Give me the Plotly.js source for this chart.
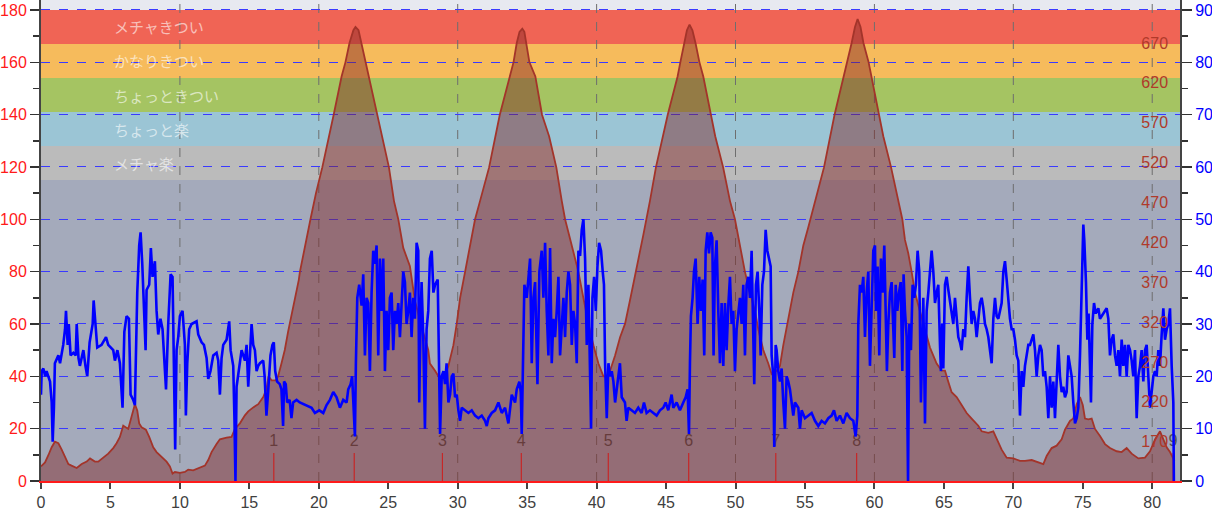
<!DOCTYPE html>
<html><head><meta charset="utf-8">
<script src="https://cdn.plot.ly/plotly-3.0.1.min.js"></script>
<style>html,body{margin:0;padding:0;background:#fff}#chart{width:1212px;height:510px}</style>
</head><body><div id="chart"></div>
<script>
// speed samples: [distance km, speed km/h]
const speedSamples = [
[0,16.5],[0.05,21],[0.17,21.5],[0.3,20],[0.4,21],[0.65,19],[0.77,15],[0.84,7.5],[0.93,14],[1.0,22.5],
[1.25,24],[1.37,22.5],[1.6,26],[1.73,29],[1.8,32.5],[1.92,26],[2.0,30],[2.13,24],[2.33,24.5],[2.5,24],
[2.57,30],[2.7,23.5],[2.8,22],[3.05,25],[3.2,22],[3.33,20],[3.5,26.5],[3.72,30],[3.79,34.5],[3.9,30],
[4.05,25.5],[4.36,26],[4.68,27.5],[4.84,26],[5.2,25],[5.32,23],[5.5,25],[5.68,22.5],[5.87,14],[6.0,28.5],
[6.16,31.5],[6.33,31],[6.45,16.5],[6.64,15.5],[6.76,14.5],[6.83,23.5],[6.93,36],[7.07,45],[7.17,47.5],[7.29,41.5],
[7.41,31],[7.53,25],[7.6,36.5],[7.79,37.5],[7.91,44.5],[8.03,39],[8.2,42],[8.32,32.5],[8.44,28],[8.6,31],
[8.75,29],[8.85,23.5],[9.0,17.5],[9.16,30],[9.33,39.5],[9.47,39],[9.57,20],[9.66,6],[9.76,25],[9.88,27.5],
[10.0,31.5],[10.19,32.5],[10.36,26],[10.43,12.5],[10.53,22.5],[10.67,29],[10.84,30],[11.2,30.5],[11.32,28],[11.56,26.5],
[11.73,26],[11.92,23.5],[12.04,19.5],[12.2,21],[12.4,24],[12.64,24.5],[12.76,23],[12.88,16.5],[13.0,23.5],[13.12,26],
[13.36,27],[13.55,30.5],[13.65,25],[13.84,22],[13.93,11.5],[14.0,0],[14.08,18],[14.2,20.5],[14.32,22],[14.44,25],
[14.68,23],[14.8,26],[14.92,18],[15.04,25],[15.16,30],[15.28,26],[15.4,25],[15.52,21],[15.64,22],[15.76,22.5],
[16.0,23],[16.1,20],[16.23,12.5],[16.35,17],[16.52,24],[16.66,26],[16.76,26.5],[16.86,21],[17.0,19],[17.19,18.5],
[17.31,17.5],[17.43,10.5],[17.5,19],[17.62,18.5],[17.72,15],[17.9,15.5],[18.03,12],[18.15,15],[18.4,15.5],[18.63,15],
[19.12,14.5],[19.48,14],[19.72,13],[20.03,13.5],[20.32,13],[20.56,14.5],[20.8,15.5],[21.04,17],[21.28,16],[21.52,14],
[21.76,15.5],[22.0,15],[22.12,17.5],[22.29,18.5],[22.4,20],[22.53,10],[22.6,8.5],[22.67,22.5],[22.77,35],[22.91,37.5],
[23.08,33.5],[23.2,39.5],[23.32,24],[23.44,35],[23.56,34],[23.68,21],[23.8,36],[23.92,44],[24.04,41.5],[24.16,45],
[24.28,24],[24.4,42.5],[24.52,32.5],[24.64,42.5],[24.76,21],[24.88,32.5],[25.0,25],[25.12,35],[25.24,36],[25.36,25],
[25.48,32.5],[25.6,30],[25.72,34],[25.84,27.5],[25.96,35],[26.08,40],[26.2,38],[26.32,30],[26.44,32.5],[26.56,36],
[26.68,27.5],[26.8,35],[26.92,31],[27.04,45.5],[27.16,44],[27.23,15],[27.33,31],[27.4,38],[27.52,27.5],[27.64,10],
[27.76,29],[27.88,32.5],[28.0,42.5],[28.13,44],[28.25,36],[28.37,37.5],[28.56,38.5],[28.66,15],[28.73,9],[28.85,20],
[28.97,21],[29.09,18.5],[29.2,22.5],[29.33,15],[29.45,16.5],[29.57,20],[29.69,20.5],[29.81,16],[29.93,16.5],[30.05,13.5],
[30.17,11.5],[30.29,14],[30.53,13.5],[30.77,13],[31.01,13.5],[31.25,12.5],[31.49,12],[31.73,12.5],[31.97,11.5],[32.09,10.5],
[32.21,12],[32.45,13],[32.69,13.5],[32.93,15],[33.17,13],[33.41,14],[33.65,11],[33.77,14],[33.89,16.5],[34.13,15],
[34.25,17.5],[34.44,19],[34.54,17],[34.61,9],[34.73,25],[34.8,37.5],[34.97,35],[35.21,42.5],[35.33,22.5],[35.45,35],
[35.57,38],[35.74,18.5],[35.88,40],[36.05,44],[36.17,35],[36.29,45.5],[36.41,32.5],[36.53,24],[36.65,44.5],[36.77,22.5],
[36.89,31],[37.01,27.5],[37.13,32.5],[37.25,39],[37.37,24],[37.49,30],[37.61,35],[37.73,27.5],[37.85,36],[37.97,40],
[38.09,37.5],[38.21,26],[38.33,32.5],[38.45,30],[38.57,22.5],[38.69,44],[38.81,43],[38.93,48],[39.05,50],[39.17,42.5],
[39.29,26],[39.41,37.5],[39.53,20],[39.6,10],[39.7,35],[39.82,39],[39.94,32.5],[40.06,41],[40.18,45.5],[40.32,44],
[40.44,40],[40.53,37.5],[40.61,22.5],[40.73,12],[40.85,22.5],[40.97,20],[41.09,21],[41.21,19],[41.33,15],[41.45,17.5],
[41.57,20],[41.68,22.5],[41.81,16],[42.04,15],[42.16,11.5],[42.28,14],[42.52,13.5],[42.76,13],[43.0,14],[43.24,13],
[43.41,15],[43.6,13],[43.84,13.5],[44.08,13],[44.32,12.5],[44.56,13.5],[44.8,14],[44.97,15],[45.16,13.5],[45.4,16.5],
[45.52,14],[45.76,15],[46.0,13.5],[46.24,15],[46.41,16],[46.55,17.5],[46.65,9],[46.72,22.5],[46.79,31.5],[46.91,35],
[47.01,40],[47.13,42.5],[47.27,30],[47.39,39],[47.51,32.5],[47.63,38.5],[47.75,24],[47.85,44],[47.97,47.5],[48.09,43.5],
[48.21,47.5],[48.33,46.5],[48.42,24],[48.52,41],[48.64,46],[48.76,32.5],[48.88,22.5],[49.0,34],[49.12,22],[49.24,34],
[49.36,25],[49.48,33.5],[49.6,39],[49.72,30],[49.84,32.5],[49.96,21],[50.08,29],[50.2,32],[50.32,35],[50.44,30],
[50.56,37.5],[50.68,24],[50.8,37.5],[50.92,39],[51.04,35],[51.16,44],[51.28,25],[51.35,18.5],[51.47,37.5],[51.59,40],
[51.71,32.5],[51.81,24],[51.93,37.5],[52.05,40],[52.17,48],[52.29,44],[52.41,42.5],[52.53,41],[52.6,24],[52.72,20],
[52.79,6.5],[52.89,26],[52.96,25],[53.08,21],[53.2,19],[53.32,21.5],[53.44,15],[53.56,10],[53.68,20],[53.8,19],
[53.92,17.5],[54.04,15],[54.16,12.5],[54.28,15],[54.52,14],[54.64,10],[54.76,13.5],[55.0,12],[55.24,12.5],[55.48,13],
[55.72,11.5],[55.96,10.5],[56.2,11.5],[56.44,11],[56.68,12],[56.92,12.5],[57.09,13.5],[57.28,11.5],[57.52,12.5],[57.76,11],
[58.0,13],[58.24,12],[58.48,11.5],[58.65,8.5],[58.77,12.5],[58.84,30],[58.96,37.5],[59.08,36],[59.2,39],[59.32,27.5],
[59.44,36],[59.56,40],[59.68,22],[59.8,35],[59.92,44],[60.04,45],[60.11,32.5],[60.23,41],[60.35,24],[60.47,42.5],
[60.59,36],[60.71,45],[60.81,30],[60.9,21],[61.0,30],[61.12,36],[61.24,38],[61.36,27.5],[61.43,23.5],[61.53,37.5],
[61.65,32.5],[61.77,36],[61.89,38],[62.01,21],[62.1,39.5],[62.2,32.5],[62.32,27.5],[62.42,0],[62.51,30],[62.63,25],
[62.75,37.5],[62.87,35],[62.99,37.5],[63.11,44],[63.23,40],[63.35,15],[63.45,30],[63.52,35],[63.64,11],[63.76,32.5],
[63.88,36],[64.0,40],[64.12,44],[64.24,40],[64.36,34],[64.48,36],[64.6,37.5],[64.72,26],[64.79,21],[64.88,30],
[64.96,21.5],[65.08,37.5],[65.2,39],[65.32,36.5],[65.44,34],[65.56,32.5],[65.68,30],[65.8,35],[65.92,31.5],[66.04,27.5],
[66.16,26.5],[66.28,25],[66.4,29],[66.52,27.5],[66.64,35],[66.76,41],[66.88,35],[67.0,30],[67.12,32.5],[67.24,31],
[67.36,27.5],[67.48,31],[67.6,34],[67.72,35],[67.84,33],[67.96,30],[68.08,29],[68.2,27.5],[68.32,25],[68.44,22.5],
[68.56,31],[68.68,35],[68.8,31.5],[68.92,31],[69.04,32.5],[69.16,34],[69.28,40],[69.4,42],[69.52,38.5],[69.64,34],
[69.76,31],[69.88,29],[70.0,29],[70.12,27],[70.24,24],[70.36,23],[70.48,12.5],[70.6,21],[70.72,18],[70.84,22],
[70.96,24],[71.08,26],[71.2,26],[71.32,27],[71.44,28],[71.56,25],[71.68,20],[71.8,24],[71.92,26],[72.04,25],
[72.16,20],[72.28,21],[72.4,18],[72.52,12],[72.64,20],[72.76,14],[72.88,19],[73.0,12],[73.12,20],[73.24,26],
[73.36,20],[73.48,17],[73.6,18],[73.72,16],[73.84,17],[73.96,24],[74.08,22],[74.2,20],[74.32,15],[74.44,11],
[74.56,12],[74.68,14],[74.8,24],[74.92,40],[75.04,49],[75.11,46],[75.23,38],[75.33,27],[75.42,32],[75.52,22],
[75.59,15],[75.69,30],[75.81,34],[75.93,32],[76.12,33],[76.24,31],[76.48,32],[76.72,33],[76.84,31],[76.96,24],
[77.08,27],[77.2,28],[77.32,24],[77.44,22],[77.56,25],[77.68,20],[77.8,27],[77.92,22],[78.04,26],[78.16,20],
[78.28,26],[78.4,25],[78.52,23],[78.64,20],[78.76,25],[78.88,12],[79.0,20],[79.12,22],[79.24,25],[79.36,19],
[79.48,25],[79.6,26],[79.72,20],[79.84,14],[79.96,17],[80.08,20],[80.2,21],[80.32,20],[80.44,25],[80.56,22],
[80.68,28],[80.8,33],[80.92,27],[81.04,29],[81.16,30],[81.28,33],[81.4,22],[81.52,15],[81.56,0]
];

// elevation samples: [distance km, elevation m]
const elevSamples = [
[0,139],[0.29,144],[0.53,153],[0.77,163],[1.0,170],[1.25,168],[1.49,160],[1.73,150],[1.97,142],[2.2,140],
[2.57,137],[2.93,142],[3.29,145],[3.53,149],[3.88,145],[4.12,145],[4.48,150],[4.84,155],[5.2,162],[5.44,168],
[5.68,176],[5.92,190],[6.28,186],[6.52,203],[6.76,217],[6.93,209],[7.07,193],[7.24,188],[7.55,185],[7.79,176],
[8.08,163],[8.32,157],[8.56,153],[8.8,149],[9.04,145],[9.28,139],[9.47,130],[9.64,132],[10.0,131],[10.36,132],
[10.6,135],[10.96,134],[11.44,137],[11.8,140],[12.04,147],[12.28,157],[12.64,167],[12.88,173],[13.36,175],[13.72,176],
[13.96,186],[14.32,193],[14.68,203],[14.92,208],[15.28,213],[15.64,217],[16.0,226],[16.23,236],[16.38,252],[16.6,247],
[16.9,247],[17.07,252],[17.31,268],[17.55,285],[17.79,308],[18.03,327],[18.28,350],[18.56,373],[18.64,383],[19.0,416],
[19.4,449],[19.8,482],[20.25,514],[21.07,580],[21.64,628],[21.92,646],[22.21,670],[22.49,686],[22.64,690],[22.86,686],
[23.06,670],[23.35,646],[23.63,628],[24.2,580],[24.54,553],[25.05,514],[25.41,472],[25.72,449],[26.08,413],[26.56,390],
[26.92,347],[27.4,314],[27.88,285],[28.0,268],[28.37,259],[28.61,252],[28.85,250],[29.09,254],[29.33,265],[29.69,291],
[29.93,318],[30.17,350],[30.53,383],[30.89,416],[31.25,449],[31.61,472],[32.26,514],[33.03,580],[33.74,628],[34.02,646],
[34.25,670],[34.45,684],[34.65,688],[34.8,684],[34.93,670],[35.16,646],[35.59,628],[36.07,580],[36.58,553],[37.1,514],
[37.49,472],[37.73,449],[38.21,416],[38.69,383],[39.05,350],[39.41,318],[39.77,291],[40.13,268],[40.49,252],[40.73,252],
[40.97,259],[41.33,278],[41.69,301],[42.05,318],[42.4,347],[42.88,387],[43.36,429],[43.84,472],[44.27,514],[45.12,580],
[45.83,628],[46.03,646],[46.32,670],[46.5,686],[46.69,693],[46.9,686],[47.12,670],[47.4,646],[47.68,628],[48.25,580],
[48.54,553],[49.11,514],[49.6,472],[49.96,449],[50.32,416],[50.68,383],[51.04,357],[51.4,334],[51.64,311],[52.0,285],
[52.36,268],[52.6,255],[52.96,259],[53.2,265],[53.44,291],[53.8,324],[54.16,357],[54.52,383],[54.88,416],[55.24,439],
[55.6,462],[56.37,514],[57.13,580],[57.79,628],[58.07,646],[58.36,670],[58.6,690],[58.79,700],[59.0,690],[59.21,670],
[59.58,646],[59.78,628],[60.35,580],[60.64,553],[61.2,514],[61.72,472],[62.01,449],[62.2,423],[62.44,406],[62.68,383],
[62.92,357],[63.16,341],[63.52,318],[63.76,301],[64.0,288],[64.24,278],[64.48,268],[64.84,259],[65.08,259],[65.32,245],
[65.56,232],[65.92,226],[66.28,216],[66.64,206],[67.0,199],[67.48,190],[67.72,183],[68.2,181],[68.56,183],[68.8,173],
[69.16,160],[69.52,150],[70.0,149],[70.48,146],[70.84,146],[71.32,147],[71.68,145],[72.16,142],[72.4,152],[72.76,162],
[73.12,165],[73.48,173],[73.72,185],[74.08,196],[74.32,199],[74.56,217],[74.8,226],[75.0,216],[75.16,199],[75.4,198],
[75.64,199],[75.88,186],[76.24,177],[76.6,167],[76.96,162],[77.44,158],[77.8,157],[78.16,162],[78.52,155],[79.0,149],
[79.48,150],[79.84,158],[80.2,173],[80.56,183],[80.8,173],[81.04,163],[81.28,157],[81.52,150],[81.6,146]
];

const lapDist = [16.76, 22.55, 28.9, 34.58, 40.84, 46.63, 52.9, 58.72, 81.5];
const lapNames = ['1','2','3','4','5','6','7','8','9'];

const zoneNames = ['メチャ楽','ちょっと楽','ちょっときつい','かなりきつい','メチャきつい'];
const zoneFrom = [115, 128, 141, 154, 167];
const zoneTo   = [128, 141, 154, 167, 180];
const zoneColors = ['#bbbbbb','#9bc5d5','#a5c462','#f6bb5c','#f06455'];

const elevTicks = [170,220,270,320,370,420,470,520,570,620,670];
const distTicks = [0,5,10,15,20,25,30,35,40,45,50,55,60,65,70,75,80];

// ---- build ----
const LEFT_MAX = 183.8, SPEED_MAX = 91.9, ELEV_MIN = 120.7, ELEV_MAX = 723.9, X_MAX = 82;

const lapX = [], lapY = [];
lapDist.forEach(d => { lapX.push(d, d, null); lapY.push(0, 10.7, null); });

const traces = [
  { x: lapX, y: lapY, xaxis:'x', yaxis:'y', mode:'lines', line:{color:'#ff2a2a', width:1.2}, hoverinfo:'skip', showlegend:false },
  { x: lapDist, y: lapDist.map(() => 15), text: lapNames, xaxis:'x', yaxis:'y', mode:'text',
    textfont:{family:'Liberation Sans, Arial, sans-serif', size:16, color:'#505050'}, showlegend:false, hoverinfo:'skip' },
  { x: elevSamples.map(p => p[0]), y: elevSamples.map(p => p[1]), xaxis:'x', yaxis:'y2', mode:'lines',
    fill:'tozeroy', fillcolor:'rgba(128,36,36,0.45)', line:{color:'#a3342a', width:1.8}, showlegend:false },
  { x: speedSamples.map(p => p[0]), y: speedSamples.map(p => p[1]), xaxis:'x', yaxis:'y3', mode:'lines',
    line:{color:'#0000ff', width:2.6}, showlegend:false }
];

const shapes = [];
shapes.push({type:'rect', xref:'paper', x0:0, x1:1, yref:'y', y0:180, y1:LEFT_MAX, fillcolor:'#e7e9f0', line:{width:0}, layer:'below'});
zoneFrom.forEach((f, i) => shapes.push({type:'rect', xref:'paper', x0:0, x1:1, yref:'y', y0:f, y1:zoneTo[i],
  fillcolor: zoneColors[i], line:{width:0}, layer:'below'}));
for (let g = 10; g < X_MAX; g += 10) {
  shapes.push({type:'line', xref:'x', x0:g, x1:g, yref:'paper', y0:0, y1:1, line:{color:'#6e6e6e', width:1, dash:'dash'}, layer:'below'});
}

const annotations = zoneNames.map((n, i) => ({
  x: 5.12, xref:'x', xanchor:'left', y:(zoneFrom[i] + zoneTo[i]) / 2, yref:'y', yanchor:'middle',
  text:n, showarrow:false, font:{family:'Noto Sans CJK JP, sans-serif', size:15, color:'rgba(255,255,255,0.6)'}
}));

const tickFont = (c) => ({family:'Liberation Sans, Arial, sans-serif', size:16, color:c});

const layout = {
  width:1212, height:510,
  margin:{l:41, r:32, t:0, b:29, pad:0},
  paper_bgcolor:'#ffffff', plot_bgcolor:'#a4aabb',
  showlegend:false,
  xaxis:{range:[0, X_MAX], tickvals:distTicks, showgrid:false, zeroline:false,
    ticks:'outside', ticklen:6, tickwidth:2, tickcolor:'#444', tickfont:tickFont('#404040'),
    showline:true, linecolor:'#ff1a1a', linewidth:2},
  yaxis:{range:[0, LEFT_MAX], tickvals:[0,20,40,60,80,100,120,140,160,180], showgrid:true, gridcolor:'#3a3aff', griddash:'dash', gridwidth:1,
    zeroline:false, ticks:'outside', ticklen:9, tickwidth:1.5, tickcolor:'#333', tickfont:tickFont('#ff1a1a'),
    minor:{tickvals:[10,30,50,70,90,110,130,150,170], ticks:'outside', ticklen:6, tickwidth:1.5, tickcolor:'#333', showgrid:false},
    showline:true, linecolor:'#444', linewidth:2},
  yaxis2:{range:[ELEV_MIN, ELEV_MAX], overlaying:'y', side:'left', anchor:'free', position:0.9895, tickvals:elevTicks,
    ticks:'', tickfont:tickFont('#b03a2a'), showgrid:false, zeroline:false, showline:false},
  yaxis3:{range:[0, SPEED_MAX], overlaying:'y', side:'right', anchor:'x', dtick:10, tick0:0,
    ticks:'outside', ticklen:10, tickwidth:1.5, tickcolor:'#333', tickfont:tickFont('#0000ff'),
    minor:{dtick:5, ticks:'outside', ticklen:6, tickwidth:1.5, tickcolor:'#333', showgrid:false},
    showgrid:false, zeroline:false, showline:true, linecolor:'#444', linewidth:2},
  shapes, annotations
};

Plotly.newPlot('chart', traces, layout, {staticPlot:true, displayModeBar:false});
</script>
</body></html>
